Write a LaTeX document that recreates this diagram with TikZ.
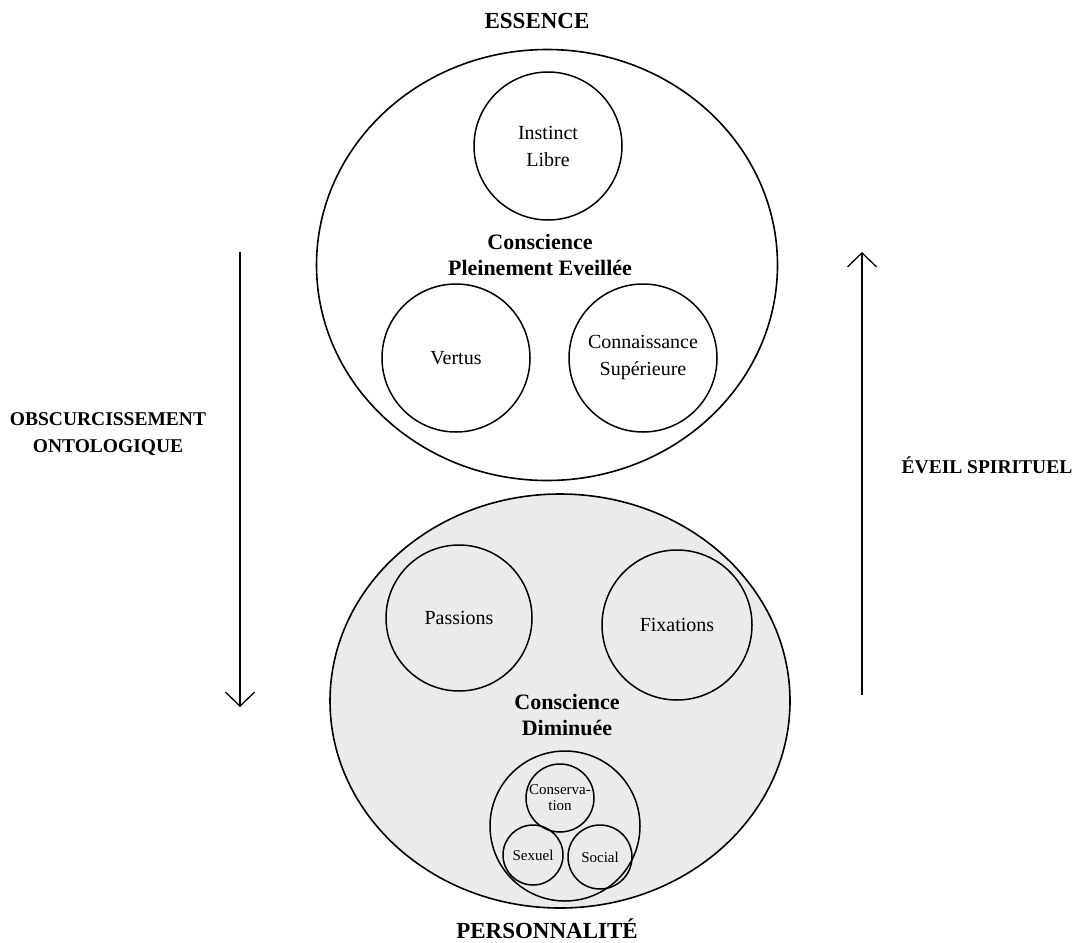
\documentclass[tikz,border=0pt]{standalone}
\usepackage{fontspec}
\setmainfont{Liberation Serif}
\usetikzlibrary{shapes.geometric,arrows.meta}
\tikzset{
  outer/.style={ellipse,draw,line width=1.6pt,inner sep=0pt},
  ring/.style={circle,draw,line width=1.5pt,inner sep=0pt,align=center,
    font=\fontsize{20}{27}\selectfont},
  tiny/.style={circle,draw,line width=1.5pt,inner sep=0pt,align=center,
    font=\fontsize{15}{16}\selectfont},
  heading/.style={font=\bfseries\fontsize{22}{26}\selectfont,align=center},
  side/.style={font=\bfseries\fontsize{19.5}{27}\selectfont,align=center},
  flow/.style={line width=1.3pt,-{Straight Barb[length=14pt,width=29pt]}},
}
\begin{document}
\begin{tikzpicture}[x=1pt,y=-1pt]
	\useasboundingbox (0,0) rectangle (1075,942);
	
	% essence
	\node[outer,minimum width=461,minimum height=431] (ess) at (547,265) {};
	\node[ring,minimum size=148] (instinct) at (548,146) {Instinct\\Libre};
	\node[ring,minimum size=148] (vertus) at (456,358) {Vertus};
	\node[ring,minimum size=148] (savoir) at (643,358) {Connaissance\\Sup\'erieure};
	\node[heading] (eveillee) at (540,255) {Conscience\\Pleinement Eveill\'ee};
	
	% personnalite
	\node[outer,fill=black!8,minimum width=460,minimum height=414] (pers) at (560,701) {};
	\node[ring,minimum size=146] (passions) at (459,618) {Passions};
	\node[ring,minimum size=150] (fixations) at (677,625) {Fixations};
	\node[heading] (diminuee) at (567,715) {Conscience\\Diminu\'ee};
	\node[circle,draw,line width=1.5pt,minimum size=150] (instincts) at (565,826) {};
	\node[tiny,minimum size=68] (conserv) at (560,798) {Conserva-\\tion};
	\node[tiny,minimum size=60] (sexuel) at (533,855) {Sexuel};
	\node[tiny,minimum size=64] (social) at (600,857) {Social};
	
	% titres
	\node[heading,font=\bfseries\fontsize{23}{26}\selectfont] (essence) at (537,21) {ESSENCE};
	\node[heading,font=\bfseries\fontsize{23}{26}\selectfont] (personnalite) at (547,929) {PERSONNALIT\'E};
	\node[side] (obscur) at (108,434) {OBSCURCISSEMENT\\ONTOLOGIQUE};
	\node[side] (eveil) at (987,465) {\'EVEIL SPIRITUEL};
	
	% fleches
	\coordinate (dtop) at (240,252);
	\coordinate (dbot) at (240,707);
	\coordinate (ubot) at (862,695);
	\coordinate (utop) at (862,252);
	\draw[flow] (dtop) -- (dbot);
	\draw[flow] (ubot) -- (utop);
	
\end{tikzpicture}
\end{document}
